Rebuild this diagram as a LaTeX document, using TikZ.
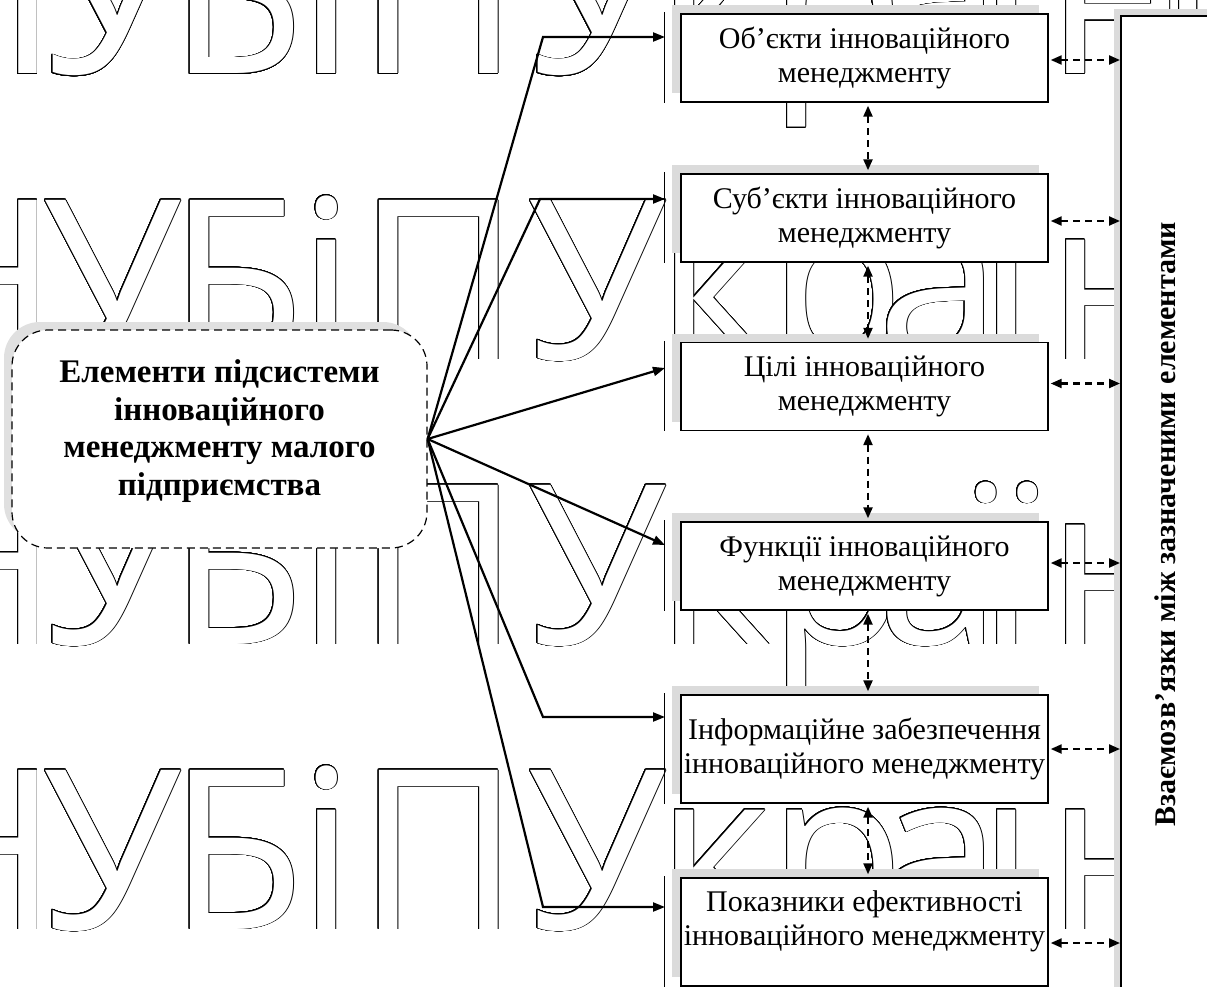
\documentclass[tikz,border=0pt]{standalone}
\usepackage{fontspec}
\setmainfont{Liberation Serif}
\newfontfamily\wmfont{Open Sans}
\usepackage{contour}
\contourlength{0.8pt}
\contournumber{32}
\usetikzlibrary{arrows.meta,shadows}
\tikzset{
  box/.style={draw, fill=white, line width=1.4pt, minimum width=367pt, minimum height=88pt,
    align=center, inner sep=0pt, font=\fontsize{30}{34}\selectfont,
    general shadow={fill=black!14, shadow xshift=-9pt, shadow yshift=9pt}},
  barline/.style={line width=1.6pt},
  conn/.style={line width=2.2pt, -{Triangle[length=12pt,width=9pt]}},
  dconn/.style={line width=2.2pt, dash pattern=on 7pt off 5pt, {Triangle[length=11pt,width=9pt]}-{Triangle[length=11pt,width=9pt]}},
  wm/.style={anchor=base west, inner sep=0pt, font=\wmfont\fontsize{223}{223}\selectfont},
}
\begin{document}
\begin{tikzpicture}[x=1pt,y=-1pt]
\useasboundingbox (0,0) rectangle (1207,987);
% watermark
\foreach \yy in {74,359,644,929}{
  \foreach \ch/\xx [count=\i] in {Н/-106,У/42,Б/168,і/298,П/357,У/527,к/656,р/768,а/877,ї/978,н/1047,и/1160}{
    \node[wm] (w\yy-\i) at (\xx,\yy) {\color{white}\contour{black}{\ch}};
  }
}
% central node
\node[draw, dashed, dash pattern=on 8pt off 5pt, line width=1.2pt, rounded corners=36pt, fill=white,
  minimum width=415pt, minimum height=218pt,
  general shadow={fill=black!12, shadow xshift=-8pt, shadow yshift=8pt}] (main) at (219.5,439) {};
\node[align=center, font=\fontsize{33}{37.5}\selectfont\bfseries] (maint) at (219.5,431)
  {Елементи підсистеми\\інноваційного\\менеджменту малого\\підприємства};
% boxes
\node[box] (b1) at (864.5,58) {Об’єкти інноваційного\\менеджменту};
\node[box] (b2) at (864.5,218) {Суб’єкти інноваційного\\менеджменту};
\node[box] (b3) at (864.5,386.5) {Цілі інноваційного\\менеджменту};
\node[box] (b4) at (864.5,566) {Функції інноваційного\\менеджменту};
\node[box, minimum height=108pt] (b5) at (864.5,749) {Інформаційне забезпечення\\інноваційного менеджменту};
\node[box, minimum height=108pt] (b6) at (864.5,932) {};
\node[align=center, inner sep=0pt, font=\fontsize{30}{34}\selectfont] (b6t) at (864.5,921) {Показники ефективності\\інноваційного менеджменту};
% right box
\node[draw, fill=white, line width=1.6pt, minimum width=95pt, minimum height=985pt, anchor=north west,
  general shadow={fill=black!14, shadow xshift=-7pt, shadow yshift=7pt}] (R) at (1120,15) {};
\node[rotate=90, font=\fontsize{30}{34}\selectfont\bfseries] (Rt) at (1165,524) {Взаємозв’язки між зазначеними елементами};
% left bars
\foreach \b in {b1,b2,b3,b4,b5,b6}{
  \draw[barline] ([xshift=-16pt,yshift=1pt]\b.north west) -- ([xshift=-16pt]\b.south west);
}
% elbow and end coordinates
\coordinate (k1) at (543,37);
\coordinate (k2) at (540,199);
\coordinate (k5) at (543,717);
\coordinate (k6) at (543,907);
\coordinate (e1) at (665,37);
\coordinate (e2) at (665,199);
\coordinate (e3) at (665,368);
\coordinate (e4) at (665,545);
\coordinate (e5) at (665,717);
\coordinate (e6) at (665,907);
\draw[conn] (main.east) -- (k1) -- (e1);
\draw[conn] (main.east) -- (k2) -- (e2);
\draw[conn] (main.east) -- (e3);
\draw[conn] (main.east) -- (e4);
\draw[conn] (main.east) -- (k5) -- (e5);
\draw[conn] (main.east) -- (k6) -- (e6);
% vertical dashed links
\draw[dconn, shorten <=3pt, shorten >=3pt] ([xshift=3.5pt]b1.south) -- ([xshift=3.5pt]b2.north);
\draw[dconn, shorten <=3pt, shorten >=3pt] ([xshift=3.5pt]b2.south) -- ([xshift=3.5pt]b3.north);
\draw[dconn, shorten <=3pt, shorten >=3pt] ([xshift=3.5pt]b3.south) -- ([xshift=3.5pt]b4.north);
\draw[dconn, shorten <=3pt, shorten >=3pt] ([xshift=3.5pt]b4.south) -- ([xshift=3.5pt]b5.north);
\draw[dconn, shorten <=3pt, shorten >=3pt] ([xshift=3.5pt]b5.south) -- ([xshift=3.5pt]b6.north);
% right dashed links
\draw[dconn, shorten <=2pt] ([yshift=-2pt]b1.east) -- ([yshift=-2pt]b1.east -| R.west);
\draw[dconn, shorten <=2pt] ([yshift=-3pt]b2.east) -- ([yshift=-3pt]b2.east -| R.west);
\draw[dconn, shorten <=2pt] ([yshift=3pt]b3.east) -- ([yshift=3pt]b3.east -| R.west);
\draw[dconn, shorten <=2pt] ([yshift=3pt]b4.east) -- ([yshift=3pt]b4.east -| R.west);
\draw[dconn, shorten <=2pt] (b5.east) -- (b5.east -| R.west);
\draw[dconn, shorten <=2pt] ([yshift=-11pt]b6.east) -- ([yshift=-11pt]b6.east -| R.west);
\end{tikzpicture}
\end{document}
